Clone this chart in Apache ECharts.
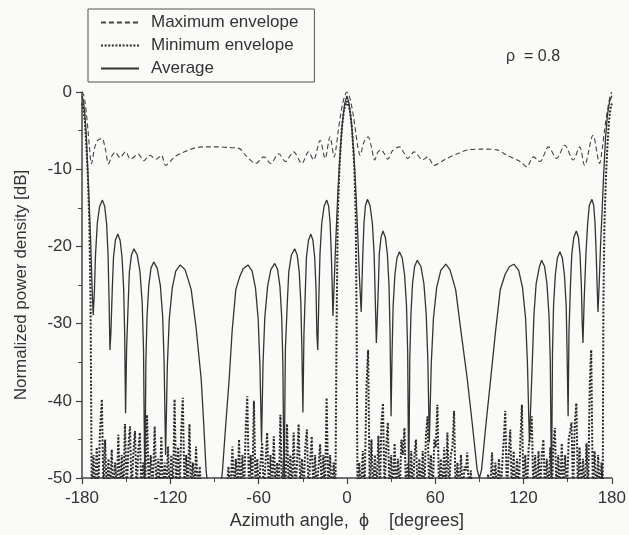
<!DOCTYPE html>
<html>
<head>
<meta charset="utf-8">
<script src="https://cdn.jsdelivr.net/npm/echarts@6/dist/echarts.min.js"></script>
<style>
  html, body { margin: 0; padding: 0; background: #fafaf8; }
  #chart { width: 629px; height: 535px; }
</style>
</head>
<body>
<div id="chart"></div>
<script>
// [azimuth deg, dB]
const maxEnvelope = [
  [-180, 0], [-179, -0.3], [-178, -1.2], [-177, -2.8], [-176, -4.8], [-175, -7], [-173.6, -9.3],
  [-171.5, -7.3], [-169.5, -6.3], [-166.5, -6], [-164, -7.5], [-162, -9.3], [-159.7, -8.3],
  [-157.5, -7.8], [-154.2, -8.5], [-150.4, -7.75], [-147, -8.7], [-141.8, -8.05], [-138, -8.9],
  [-134, -8.2], [-129.5, -8.7], [-126, -8.2], [-123.2, -9.5], [-117.1, -8.4], [-110.4, -7.75],
  [-102.5, -7.2], [-95, -7.1], [-88, -7.1], [-80, -7.2], [-73.3, -7.3], [-68.8, -8.2], [-62, -9.25],
  [-56.4, -8.4], [-51.9, -9.25], [-46.3, -8], [-41.8, -9], [-36.2, -7.75], [-30.6, -9.25],
  [-26.1, -7.75], [-22.7, -8.8], [-18.2, -6.25], [-14.8, -8.6], [-11.5, -5.8], [-8.6, -8.4],
  [-7.2, -7], [-6, -5.2], [-4.5, -3.2], [-3, -1.6], [-1.5, -0.5], [0, 0],
  [1.5, -0.5], [3, -1.6], [4.5, -3.2], [6, -5.2], [7.5, -7.2], [9, -8.2], [11.5, -6.5], [14.4, -5.8],
  [16.5, -7], [18.9, -8.8], [21, -7.8], [23.3, -7.5], [25.5, -8], [27.8, -8.7], [31, -7.6],
  [35.7, -7.1], [38.5, -7.8], [41.3, -8.6], [45.8, -7.75], [51.4, -8.8], [54.8, -8.4], [59.3, -9.5],
  [66, -8.8], [75, -8], [82, -7.5], [92, -7.4], [102, -7.5], [108.8, -8.2], [117.7, -9], [122.2, -9.7],
  [126.7, -8.4], [131.2, -9], [136.9, -7.1], [142.5, -8.6], [148, -6.9], [153.7, -8.8], [158.2, -7.1],
  [161.5, -9.5], [167.2, -5.6], [171.7, -9.25], [173.5, -7.3], [175, -5], [176.5, -3], [178, -1.3],
  [179, -0.4], [180, 0]
];

const minEnvelope = [
  [-180, -1.5], [-179, -2.2], [-178, -4], [-177, -7], [-176, -11], [-175, -17], [-174.2, -27], [-173.4, -52],
  [-172.2, -47], [-171.2, -52], [-170, -46], [-169, -52], [-167.8, -44], [-166.5, -39.8], [-165.4, -52],
  [-164.3, -45], [-163.2, -52], [-162, -47.5], [-161, -52], [-159.8, -46.3], [-158.7, -52], [-157.5, -48],
  [-156.4, -52], [-155.3, -44.4], [-154.2, -52], [-153, -47], [-151.9, -52], [-150.8, -43], [-149.6, -52],
  [-148.5, -46], [-147.4, -43.3], [-146.3, -52], [-145.2, -47], [-144, -43.9], [-142.9, -52], [-141.8, -46.5],
  [-140.7, -44.1], [-139.6, -52], [-138.4, -48], [-137.2, -52], [-135.8, -41.8], [-134.6, -52], [-133.3, -47],
  [-132.1, -52], [-130.6, -43.3], [-129.4, -52], [-128.2, -47.5], [-127.2, -52], [-126.1, -44.6], [-125, -52],
  [-123.8, -48], [-122.7, -52], [-121.6, -45.9], [-120.5, -52], [-119.3, -47], [-118.2, -52], [-117.1, -39.8],
  [-115.9, -52], [-114.7, -46], [-113.6, -52], [-112.6, -44], [-111.5, -39.6], [-110.3, -52], [-109.2, -47],
  [-108.1, -52], [-107, -43], [-105.9, -52], [-104.7, -48], [-103.6, -52], [-102.5, -45.9], [-101.3, -52],
  [-100, -48.5], [-98.8, -53], [-90, -57], [-82, -53], [-80.5, -48.5], [-79.2, -52], [-77.8, -45.9],
  [-76.6, -52], [-75.5, -47.5], [-74.4, -52], [-73.3, -45], [-72.2, -52], [-71, -47], [-69.9, -52],
  [-68.8, -44], [-67.7, -39.4], [-66.5, -52], [-65.4, -47], [-64.3, -52], [-63.2, -40], [-62, -52],
  [-60.9, -47.5], [-59.8, -52], [-58.7, -48], [-57.6, -45.4], [-56.5, -52], [-55.3, -48], [-54.2, -44.1],
  [-53, -52], [-51.9, -47], [-50.8, -52], [-49.7, -44.6], [-48.5, -52], [-47.4, -48], [-46.3, -52],
  [-45.2, -41.8], [-44, -52], [-42.9, -47.5], [-41.8, -52], [-40.7, -43], [-39.5, -52], [-38.4, -47],
  [-37.3, -52], [-36.2, -44.1], [-35, -52], [-33.9, -48], [-32.8, -43], [-31.6, -52], [-30.5, -47.5],
  [-29.4, -52], [-28.3, -46], [-27.2, -43.7], [-26.1, -52], [-25, -48], [-23.9, -44.6], [-22.8, -52],
  [-21.6, -47], [-20.5, -52], [-19.3, -48.5], [-18.2, -45.6], [-17.1, -52], [-16, -47], [-14.9, -52],
  [-13.8, -39.6], [-12.6, -52], [-11.4, -47], [-10.3, -52], [-9, -48], [-7.8, -52],
  [-7, -30], [-6.2, -16], [-5, -9.5], [-3.5, -4.8], [-2, -2.3], [0, -1.2], [2, -2.3], [3.5, -4.8],
  [5, -9.5], [6, -16], [6.6, -30], [7.2, -52],
  [8.4, -48], [9.6, -52], [10.8, -46.5], [12, -52], [13.3, -38], [14.4, -33.4], [15.5, -52], [16.7, -45],
  [17.8, -52], [19, -47], [20.2, -52], [21.4, -44.5], [22.5, -52], [23.4, -43], [24.5, -40.3], [25.6, -52],
  [26.7, -46], [27.8, -42.8], [28.9, -52], [30.1, -47], [31.3, -52], [32.4, -45.5], [33.6, -52], [34.7, -47.5],
  [35.9, -52], [37, -45], [38, -47], [39.1, -43.5], [40.2, -52], [41.4, -48], [42.6, -52], [43.7, -46.5],
  [44.9, -52], [45.9, -47], [46.9, -45], [48, -52], [49.2, -47.5], [50.4, -52], [51.5, -46.5], [52.6, -52],
  [53.7, -44.5], [54.8, -42], [55.9, -52], [57.1, -47], [58.3, -52], [59.4, -45], [60.4, -46], [61.5, -40.5],
  [62.6, -52], [63.8, -47.5], [64.9, -52], [66.1, -46], [67.2, -52], [68.3, -44.1], [69.4, -52], [70.6, -47],
  [71.7, -46], [72.8, -41.3], [73.9, -52], [75.1, -48], [76.3, -52], [77.5, -47], [78.7, -52], [79.9, -48.5],
  [80.9, -49], [81.8, -46.7], [82.9, -52], [84.2, -49], [85.4, -53], [90, -56], [94.6, -53], [95.9, -49.5],
  [97.2, -52], [98.6, -46.7], [99.7, -52], [100.9, -48], [102.1, -52], [103.3, -47.5], [104.5, -52],
  [105.6, -48], [106.6, -45], [107.6, -41.3], [108.7, -52], [109.9, -47], [111, -43.7], [112.1, -52],
  [113.3, -46.5], [114.4, -52], [115.6, -47.5], [116.8, -52], [117.9, -45], [118.9, -40.5], [120, -52],
  [121.2, -47], [122.3, -52], [123.5, -46], [124.6, -44.5], [125.6, -42], [126.7, -52], [127.9, -47],
  [129.1, -52], [130.2, -46.5], [131.3, -52], [132.4, -47], [133.5, -45], [134.6, -52], [135.8, -47.5],
  [137, -52], [138.2, -46], [139.3, -52], [140.3, -45.5], [141.3, -43.5], [142.4, -52], [143.6, -47],
  [144.8, -52], [146, -45.5], [147.1, -52], [148.3, -47], [149.5, -52], [150.7, -45], [151.6, -44],
  [152.6, -42.8], [153.7, -52], [154.8, -43], [155.9, -40.3], [157, -52], [158.1, -46], [159.3, -52],
  [160.4, -47.5], [161.6, -52], [162.8, -45.5], [163.9, -52], [165, -38], [166, -33.4], [167.1, -52],
  [168.3, -46.5], [169.5, -52], [170.7, -47], [171.9, -52], [173, -48], [173.8, -52],
  [174.3, -27], [175, -17], [176, -11], [177, -7], [178, -4], [179, -2.2], [180, -1.5]
];

const average = [
  [-180, -0.5], [-179, -1.2], [-178, -3], [-177, -6], [-176, -10.5], [-175, -15], [-174, -20],
  [-173.2, -25], [-172.4, -28.9],
  [-171.6, -26], [-170.8, -21], [-169.6, -17], [-168, -14.8], [-166.1, -14], [-164.6, -14.8],
  [-163.3, -17], [-162.3, -21], [-161.6, -27], [-161, -33.4],
  [-160.4, -31.4], [-159.4, -25.4], [-158.6, -21.4], [-157.3, -19.2], [-155.7, -18.4], [-154.1, -19.2],
  [-152.8, -21.4], [-151.7, -25.4], [-151, -31.4], [-150.4, -41.6],
  [-149.7, -33.3], [-148.6, -27.3], [-147.8, -23.3], [-146.4, -21.1], [-144.7, -20.3], [-142.5, -21.1],
  [-140.6, -23.3], [-139.1, -27.3], [-138.2, -33.3], [-137.3, -52],
  [-136.6, -35], [-135.8, -29], [-134.6, -25], [-133.1, -22.8], [-131.3, -22], [-128.9, -22.8],
  [-126.8, -25], [-125.2, -29], [-124.2, -35], [-123.2, -47],
  [-122, -35.4], [-120.7, -29.4], [-118.7, -25.4], [-116.3, -23.2], [-113.3, -22.4], [-110, -23],
  [-108, -24.2], [-105.8, -25.6], [-102.5, -30.5], [-99, -37.2], [-97.3, -43], [-95.7, -48.9],
  [-93, -54], [-90, -56], [-87, -54],
  [-84.5, -48.9], [-82.3, -43], [-80, -37.2], [-78, -31], [-75.5, -25.6], [-73, -24], [-70.5, -22.9],
  [-67.2, -22.4], [-64.4, -23.2], [-62.1, -25.4], [-60.3, -29.4], [-59.1, -35.4], [-58, -45.4],
  [-57, -35.2], [-55.8, -29.2], [-53.9, -25.2], [-51.7, -23], [-49, -22.2], [-47.1, -23], [-45.5, -25.2],
  [-44.3, -29.2], [-43.5, -35.2], [-42.7, -52],
  [-41.8, -33.3], [-40.5, -27.3], [-39.5, -23.3], [-37.7, -21.1], [-35.5, -20.3], [-33.8, -21.1],
  [-32.4, -23.3], [-31.3, -27.3], [-30.6, -33.3], [-29.9, -41.5],
  [-29.2, -31.4], [-28.2, -25.4], [-27.5, -21.4], [-26.1, -19.2], [-24.5, -18.4], [-23.1, -19.2],
  [-21.9, -21.4], [-21, -25.4], [-20.4, -31.4], [-19.8, -33.4],
  [-19.1, -27], [-18.3, -21], [-17.1, -17], [-15.5, -14.8], [-13.7, -14], [-12.4, -14.8], [-11.4, -17],
  [-10.6, -21], [-10, -25], [-9.5, -29],
  [-8.5, -24], [-7.5, -19], [-6, -12.5], [-4.5, -7.5], [-3, -3.8], [-1.5, -1.5], [0, -0.5],
  [1.5, -1.5], [3, -3.8], [4.5, -7.5], [6, -12.5], [7.5, -19], [8.5, -24], [9.7, -28.5],
  [10.2, -25], [10.8, -21], [11.6, -17], [12.6, -14.7], [13.9, -13.9], [15.7, -14.7], [17.3, -17],
  [18.5, -21], [19.3, -27], [20, -32.5],
  [20.5, -30], [21.4, -25], [22, -21], [23.2, -18.8], [24.5, -18], [26.1, -18.8], [27.5, -21],
  [28.6, -25], [29.3, -31], [30, -42],
  [30.7, -33.7], [31.4, -27.7], [32.6, -23.7], [34, -21.5], [35.7, -20.7], [37.6, -21.5], [39.2, -23.7],
  [40.5, -27.7], [41.3, -33.7], [42, -52],
  [42.7, -34.8], [43.5, -28.8], [44.6, -24.8], [46, -22.6], [47.8, -21.8], [50.3, -22.6], [52.3, -24.8],
  [53.9, -28.8], [55, -34.8], [56, -45.4],
  [57.3, -35.3], [58.8, -29.3], [61, -25.3], [63.8, -23.1], [67.2, -22.3], [70, -23], [73.9, -25.6],
  [77.5, -31], [81.8, -37.2], [85.2, -43], [88.5, -48.9], [90, -50],
  [91.5, -48.9], [94.5, -43], [97.5, -37.5], [101, -31], [104.2, -25.6], [107.5, -23.6], [110.5, -22.6],
  [113.5, -22.3], [116.7, -23.1], [119.3, -25.3], [121.4, -29.3], [122.7, -35.3], [124, -45.4],
  [126, -34.8], [127.1, -28.8], [128.6, -24.8], [130.8, -22.6], [132.3, -21.8], [134.3, -22.6],
  [135.9, -24.8], [137.3, -28.8], [138.2, -34.8], [139, -52],
  [139.7, -33.7], [140.4, -27.7], [141.6, -23.7], [143, -21.5], [144.7, -20.7], [146.4, -21.5],
  [147.8, -23.7], [149, -27.7], [149.6, -33.7], [150.3, -42],
  [150.9, -31], [151.9, -25], [152.8, -21], [154.2, -18.8], [155.9, -18], [157.3, -18.8], [158.4, -21],
  [159.3, -25], [159.9, -30], [160.4, -32.5],
  [161.2, -27], [162.4, -21], [163.6, -17], [164.7, -14.7], [166.5, -13.9], [167.7, -14.7], [168.6, -17],
  [169.4, -21], [170, -25], [170.6, -28.5],
  [171.4, -25], [172.3, -20], [173.5, -15], [174.5, -10.5], [175.7, -6], [177, -3], [178.5, -1.2], [180, -0.5]
];

const xTicks = { min: -180, max: 180, step: 60 };
const yTicks = { min: -50, max: 0, step: 10 };

const font = 'Liberation Sans, Arial, Helvetica, sans-serif';
const ink = '#333';

const chart = echarts.init(document.getElementById('chart'), null, { renderer: 'canvas' });

chart.setOption({
  backgroundColor: '#fafaf8',
  animation: false,
  textStyle: { fontFamily: font, color: ink },
  title: {
    text: 'ρ  = 0.8',
    left: 501,
    top: 44,
    textStyle: { fontFamily: font, fontSize: 16, fontWeight: 'normal', color: ink }
  },
  legend: {
    orient: 'vertical',
    left: 88,
    top: 9,
    padding: [5, 16, 5, 12],
    itemWidth: 38,
    itemHeight: 14,
    itemGap: 6,
    borderColor: '#555',
    borderWidth: 1,
    itemStyle: { opacity: 0 },
    textStyle: { fontFamily: font, fontSize: 17, color: ink, padding: [0, 0, 0, 7] },
    data: ['Maximum envelope', 'Minimum envelope', 'Average']
  },
  grid: { left: 82, right: 13, top: 92, bottom: 56 },
  xAxis: {
    type: 'value',
    min: xTicks.min,
    max: xTicks.max,
    interval: xTicks.step,
    name: 'Azimuth angle,  ϕ    [degrees]',
    nameLocation: 'middle',
    nameGap: 33,
    nameTextStyle: { fontFamily: font, fontSize: 18, color: ink },
    axisLine: { onZero: false, lineStyle: { color: '#444', width: 1.5 } },
    axisTick: { length: 6, lineStyle: { color: '#444', width: 1.2 } },
    minorTick: { show: true, splitNumber: 2, length: 4, lineStyle: { color: '#444' } },
    axisLabel: { fontFamily: font, fontSize: 17, color: ink, margin: 12 },
    splitLine: { show: false }
  },
  yAxis: {
    type: 'value',
    min: yTicks.min,
    max: yTicks.max,
    interval: yTicks.step,
    name: 'Normalized power density [dB]',
    nameLocation: 'middle',
    nameGap: 52,
    nameTextStyle: { fontFamily: font, fontSize: 17, color: ink },
    axisLine: { show: true, onZero: false, lineStyle: { color: '#444', width: 1.5 } },
    axisTick: { show: true, length: 6, lineStyle: { color: '#444', width: 1.2 } },
    minorTick: { show: true, splitNumber: 2, length: 4, lineStyle: { color: '#444' } },
    axisLabel: { fontFamily: font, fontSize: 17, color: ink, margin: 10 },
    splitLine: { show: false }
  },
  series: [
    {
      name: 'Maximum envelope',
      type: 'line',
      data: maxEnvelope,
      symbol: 'none',
      smooth: 0.3,
      clip: true,
      lineStyle: { color: '#444', width: 1.1, type: [5, 3] },
      itemStyle: { color: '#444', opacity: 0 }
    },
    {
      name: 'Minimum envelope',
      type: 'line',
      data: minEnvelope,
      symbol: 'none',
      clip: true,
      lineStyle: { color: '#2a2a2a', width: 2, type: [2, 1.6] },
      itemStyle: { color: '#2a2a2a', opacity: 0 }
    },
    {
      name: 'Average',
      type: 'line',
      data: average,
      symbol: 'none',
      clip: true,
      lineStyle: { color: '#333', width: 1.3 },
      itemStyle: { color: '#333', opacity: 0 }
    }
  ]
});
</script>
</body>
</html>
